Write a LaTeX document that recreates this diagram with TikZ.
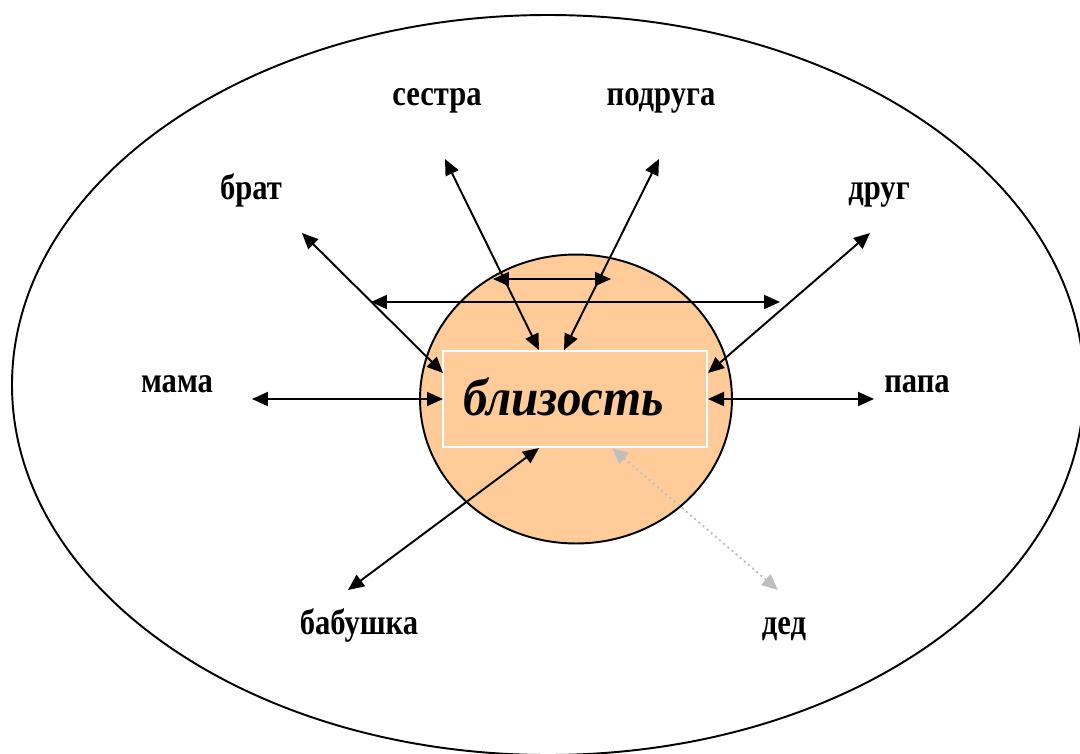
\documentclass[tikz,border=0pt]{standalone}
\usepackage{fontspec}
\setmainfont{Liberation Serif}
\newfontfamily\figserif[FakeStretch=0.85]{Liberation Serif}
\newfontfamily\figitalic[FakeStretch=0.93]{Liberation Serif}
\usepackage{tikz}
\usetikzlibrary{arrows.meta, positioning, shapes.geometric}
\definecolor{figpeach}{HTML}{FFCC99}
\definecolor{figgrey}{HTML}{BFBFBF}
\tikzset{
  figword/.style={font=\figserif\fontsize{20.5}{22}\selectfont\bfseries, inner sep=0pt, anchor=base},
  figlink/.style={{Triangle[length=3.2mm, width=2.8mm]}-{Triangle[length=3.2mm, width=2.8mm]}, line width=1.1pt, black},
  figfaint/.style={figlink, figgrey, dotted},
}
\begin{document}
\begin{tikzpicture}[x=0.02cm, y=-0.02cm]
  \useasboundingbox (0,0) rectangle (1080,754);
  \draw[line width=1.1pt] (548,385) ellipse [x radius=536, y radius=370];
  \node[ellipse, draw, line width=1.1pt, fill=figpeach, minimum width=6.24cm, minimum height=5.78cm, inner sep=0pt] (zone) at (576,399) {};
  \node[draw=white, line width=1pt, fill=figpeach, minimum width=5.28cm, minimum height=1.92cm, text width=4.48cm, inner xsep=0.4cm, align=left, font=\figitalic\fontsize{30}{32}\selectfont\bfseries\itshape] (box) at (575,399) {\raisebox{0.1cm}{близость}};
  \node[figword] (sestra) at (437,105) {сестра};
  \node[figword] (podruga) at (661,105) {подруга};
  \node[figword] (brat) at (251,199) {брат};
  \node[figword] (drug) at (879,199) {друг};
  \node[figword] (mama) at (177,392) {мама};
  \node[figword] (papa) at (917,392) {папа};
  \node[figword] (babushka) at (359,634) {бабушка};
  \node[figword] (ded) at (784,634) {дед};
  % arrow ends
  \coordinate (oBrat) at (302,233);   \coordinate (iBrat) at (443,373);
  \coordinate (oMama) at (252,399);   \coordinate (iMama) at (443,399);
  \coordinate (oSestra) at (445,159); \coordinate (iSestra) at (539,350);
  \coordinate (oPodruga) at (659,159);\coordinate (iPodruga) at (564,350);
  \coordinate (oDrug) at (870,233);   \coordinate (iDrug) at (708,373);
  \coordinate (oPapa) at (874,399);   \coordinate (iPapa) at (708,399);
  \coordinate (oBabushka) at (348,590); \coordinate (iBabushka) at (539,448);
  \coordinate (oDed) at (778,590);    \coordinate (iDed) at (612,448);
  \coordinate (sL) at (493,279); \coordinate (sR) at (611,279);
  \coordinate (wL) at (371,302); \coordinate (wR) at (780,302);
  \foreach \a/\b in {oBrat/iBrat,oMama/iMama,oSestra/iSestra,oPodruga/iPodruga,oDrug/iDrug,oPapa/iPapa,oBabushka/iBabushka,sL/sR,wL/wR}
    \draw[figlink] (\a) -- (\b);
  \draw[figfaint] (oDed) -- (iDed);
\end{tikzpicture}
\end{document}
